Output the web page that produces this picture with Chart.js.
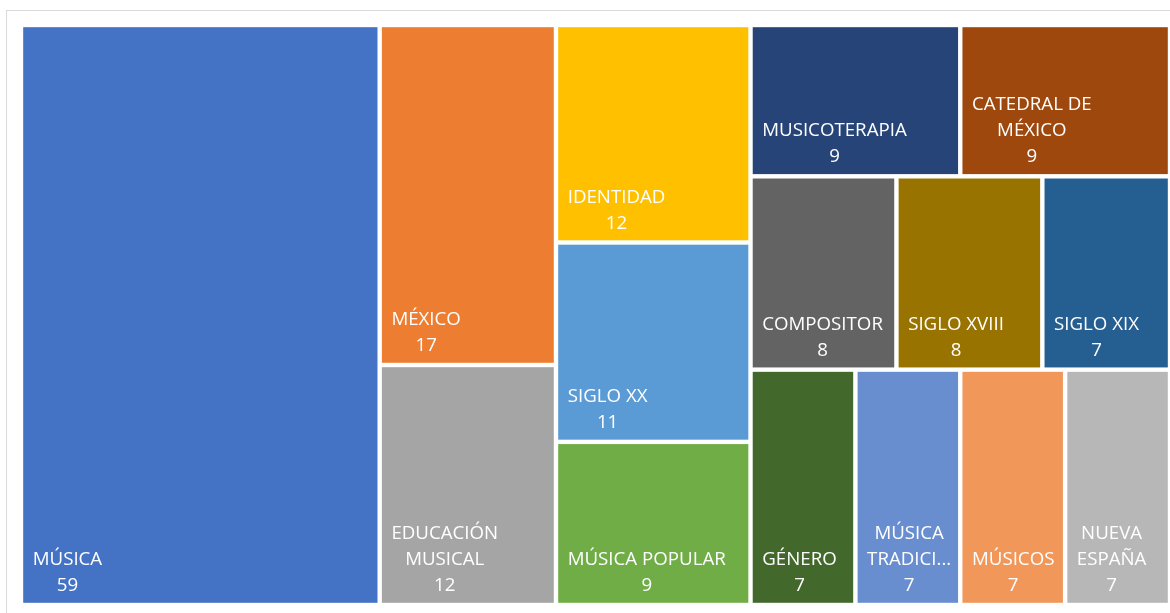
<!DOCTYPE html>
<html>
<head>
<meta charset="utf-8">
<script src="https://cdn.jsdelivr.net/npm/chart.js@4.4.1/dist/chart.umd.min.js"></script>
<style>
  html, body { margin: 0; padding: 0; background: #fff; overflow: hidden; }
  #frame {
    position: absolute; left: 6px; top: 10px; width: 1190px; height: 620px;
    border: 1px solid #d9d9d9; box-sizing: border-box;
  }
  #holder { position: absolute; left: 7px; top: 11px; width: 1177px; height: 608px; }
</style>
</head>
<body>
<div id="frame"></div>
<div id="holder"><canvas id="chart"></canvas></div>
<script>
// keyword counts, largest first
const topics = [
  "MÚSICA", "MÉXICO", "EDUCACIÓN MUSICAL", "IDENTIDAD", "SIGLO XX",
  "MÚSICA POPULAR", "MUSICOTERAPIA", "CATEDRAL DE MÉXICO", "COMPOSITOR",
  "SIGLO XVIII", "SIGLO XIX", "GÉNERO", "MÚSICA TRADICIONAL", "MÚSICOS",
  "NUEVA ESPAÑA"
];
const counts = [59, 17, 12, 12, 11, 9, 9, 9, 8, 8, 7, 7, 7, 7, 7];
const tileColors = [
  "#4472C4", "#ED7D31", "#A5A5A5", "#FFC000", "#5B9BD5",
  "#70AD47", "#264478", "#9E480E", "#636363", "#997300",
  "#255E91", "#43682B", "#698ED0", "#F1975A", "#B7B7B7"
];

// how the tiles are grouped into strips, and which way each strip runs
const stripSizes = [1, 2, 3, 2, 3, 4];
const stripDirs = ["column", "column", "column", "row", "row", "row"];

const FONT = "18.7px 'Open Sans', sans-serif";

// slice the unit square into strips, each strip sized by its share of what's left
function layoutStrips(values, sizes, dirs) {
  const cells = [];
  let x0 = 0, y0 = 0, x1 = 1, y1 = 1;
  let rest = values.reduce((a, b) => a + b, 0);
  let i = 0;
  sizes.forEach((n, s) => {
    const group = values.slice(i, i + n);
    const sum = group.reduce((a, b) => a + b, 0);
    const share = sum / rest;
    if (dirs[s] === "column") {
      const xe = x0 + (x1 - x0) * share;
      let yy = y0;
      group.forEach(v => {
        const h = (y1 - y0) * v / sum;
        cells.push({ x0: x0, x1: xe, y0: yy, y1: yy + h });
        yy += h;
      });
      x0 = xe;
    } else {
      const ye = y0 + (y1 - y0) * share;
      let xx = x0;
      group.forEach(v => {
        const w = (x1 - x0) * v / sum;
        cells.push({ x0: xx, x1: xx + w, y0: y0, y1: ye });
        xx += w;
      });
      y0 = ye;
    }
    rest -= sum;
    i += n;
  });
  return cells;
}

// greedy word wrap, cutting a word with "..." when it can't fit on its own
function wrapLabel(ctx, text, maxW) {
  const lines = [];
  let line = "";
  for (const word of text.split(" ")) {
    const test = line ? line + " " + word : word;
    if (ctx.measureText(test).width <= maxW) { line = test; continue; }
    if (line) lines.push(line);
    if (ctx.measureText(word).width <= maxW) { line = word; continue; }
    let cut = word;
    while (cut.length > 1 && ctx.measureText(cut + "...").width > maxW) cut = cut.slice(0, -1);
    lines.push(cut + "...");
    line = "";
    break;
  }
  if (line) lines.push(line);
  return lines;
}

class TileElement extends Chart.Element {
  static id = "tile";
  static defaults = {};

  draw(ctx) {
    const o = this.options;
    const g = o.gap / 2;
    const left = Math.min(this.x, this.x2) + g;
    const right = Math.max(this.x, this.x2) - g;
    const top = Math.min(this.y, this.y2) + g;
    const bottom = Math.max(this.y, this.y2) - g;

    ctx.save();
    ctx.fillStyle = o.backgroundColor;
    ctx.fillRect(left, top, right - left, bottom - top);

    ctx.font = o.font;
    ctx.fillStyle = o.color;
    ctx.textBaseline = "middle";
    ctx.textAlign = "center";
    const lines = wrapLabel(ctx, this.label, right - left - o.padding - o.paddingRight);
    lines.push(String(this.value));
    const blockW = Math.max(...lines.map(l => ctx.measureText(l).width));
    const cx = left + o.padding + blockW / 2;
    let cy = bottom - o.bottomOffset - (lines.length - 1) * o.lineHeight;
    lines.forEach(l => {
      ctx.fillText(l, cx, cy);
      cy += o.lineHeight;
    });
    ctx.restore();
  }
}

class TreemapController extends Chart.DatasetController {
  static id = "treemap";
  static defaults = { dataElementType: "tile", datasetElementType: false };
  static overrides = {
    scales: {
      x: { type: "linear", display: false },
      y: { type: "linear", display: false }
    }
  };

  parse(start, count) {
    const meta = this._cachedMeta;
    const data = this.getDataset().data;
    for (let i = start; i < start + count; i++) {
      meta._parsed[i] = { x: i, y: data[i] };
    }
  }

  getStyle() {
    return {};
  }

  update() {
    const meta = this._cachedMeta;
    const ds = this.getDataset();
    const cells = layoutStrips(ds.data, ds.stripSizes, ds.stripDirs);
    const xs = meta.xScale;
    const ys = meta.yScale;
    meta.data.forEach((el, i) => {
      const c = cells[i];
      Object.assign(el, {
        x: xs.getPixelForValue(c.x0),
        x2: xs.getPixelForValue(c.x1),
        y: ys.getPixelForValue(c.y0),
        y2: ys.getPixelForValue(c.y1),
        label: ds.names[i],
        value: ds.data[i],
        options: {
          backgroundColor: ds.backgroundColor[i],
          gap: 4.4,
          padding: 9.5,
          paddingRight: 6,
          font: FONT,
          color: "#ffffff",
          lineHeight: 26,
          bottomOffset: 17
        }
      });
    });
  }
}

Chart.register(TileElement, TreemapController);

new Chart(document.getElementById("chart"), {
  type: "treemap",
  data: {
    datasets: [{
      data: counts,
      names: topics,
      backgroundColor: tileColors,
      stripSizes: stripSizes,
      stripDirs: stripDirs
    }]
  },
  options: {
    responsive: true,
    maintainAspectRatio: false,
    animation: false,
    events: [],
    layout: { padding: 14 },
    scales: {
      x: { type: "linear", min: 0, max: 1, display: false },
      y: { type: "linear", min: 0, max: 1, reverse: true, display: false }
    },
    plugins: {
      legend: { display: false, labels: { generateLabels: () => [] } },
      tooltip: { enabled: false }
    }
  }
});
</script>
</body>
</html>
